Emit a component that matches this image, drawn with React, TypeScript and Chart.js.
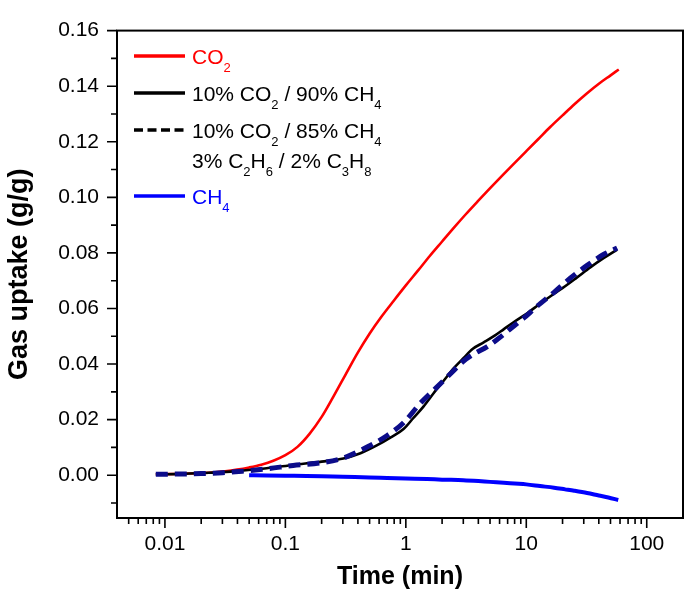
import React, { useEffect, useRef } from 'react';
import { Chart, registerables } from 'chart.js';

Chart.register(...registerables);

const FONT = '"Liberation Sans", Arial, Helvetica, sans-serif';

// ---- axes ----
const xMin = 0.004;
const xMax = 200;
const yMin = -0.0154;
const yMax = 0.16;
const xTickValues = [0.01, 0.1, 1, 10, 100];
const yTickValues = [0, 0.02, 0.04, 0.06, 0.08, 0.1, 0.12, 0.14, 0.16];
const xTitle = 'Time (min)';
const yTitle = 'Gas uptake (g/g)';

// ---- series: CO2 ----
const co2Time = [0.0084, 0.0158, 0.0251, 0.0316, 0.0398, 0.0501, 0.0631, 0.0794, 0.1, 0.126, 0.158, 0.2, 0.251, 0.316, 0.398, 0.501, 0.631, 0.794, 1.0, 1.26, 1.58, 2.0, 2.51, 3.16, 3.98, 5.01, 6.31, 7.94, 10, 12.6, 15.8, 20, 25.1, 31.6, 39.8, 50.1, 58.6];
const co2Uptake = [0.0003, 0.0006, 0.001, 0.0014, 0.002, 0.0028, 0.0038, 0.0052, 0.0072, 0.0102, 0.0148, 0.021, 0.0284, 0.0362, 0.044, 0.051, 0.0572, 0.0628, 0.0683, 0.0736, 0.0789, 0.0841, 0.0891, 0.094, 0.0987, 0.1033, 0.1078, 0.1122, 0.1166, 0.121, 0.1253, 0.1295, 0.1335, 0.1373, 0.1408, 0.1439, 0.146];

// ---- series: 10% CO2 / 90% CH4 ----
const mixATime = [0.0084, 0.012, 0.0209, 0.03, 0.0448, 0.07, 0.116, 0.2, 0.303, 0.42, 0.574, 0.75, 0.957, 1.15, 1.4, 1.7, 2.06, 2.5, 3.02, 3.6, 4.43, 5.5, 6.48, 8.0, 10.1, 13, 16.9, 21, 26.4, 34, 44.1, 56.8];
const mixAUptake = [0.0003, 0.0004, 0.0008, 0.0011, 0.0017, 0.0025, 0.0037, 0.0049, 0.006, 0.0079, 0.0107, 0.0136, 0.0166, 0.0205, 0.0247, 0.0295, 0.034, 0.0385, 0.0422, 0.0455, 0.0478, 0.0503, 0.0525, 0.0553, 0.0582, 0.0617, 0.0652, 0.068, 0.0712, 0.0748, 0.0782, 0.0812];

// ---- series: 10% CO2 / 85% CH4 / 3% C2H6 / 2% C3H8 ----
const mixBTime = [0.0084, 0.012, 0.02, 0.03, 0.045, 0.07, 0.116, 0.2, 0.303, 0.506, 0.695, 0.957, 1.32, 1.81, 2.49, 3.0, 3.66, 4.71, 5.8, 7.3, 9.5, 12.3, 17, 23.3, 32, 44.1, 56.8];
const mixBUptake = [0.0003, 0.0004, 0.0006, 0.0009, 0.0015, 0.0023, 0.0035, 0.0045, 0.0062, 0.0107, 0.0142, 0.0189, 0.0259, 0.0317, 0.0376, 0.041, 0.0436, 0.0462, 0.049, 0.0525, 0.0565, 0.0608, 0.0658, 0.071, 0.0755, 0.0795, 0.0818];

// ---- series: CH4 ----
const ch4Time = [0.05, 0.07, 0.1, 0.15, 0.2, 0.3, 0.5, 0.7, 1.0, 1.5, 2.0, 3.0, 4.0, 5.0, 6.5, 8.0, 10, 13, 17, 21, 25, 32, 40, 48, 58];
const ch4Uptake = [0.0, -0.0001, -0.0002, -0.0003, -0.0004, -0.0006, -0.0008, -0.001, -0.0012, -0.0014, -0.0016, -0.0018, -0.0021, -0.0024, -0.0027, -0.003, -0.0033, -0.0039, -0.0045, -0.0051, -0.0056, -0.0064, -0.0073, -0.008, -0.0089];

// ---- labels ----
const seriesLabels = ['CO2', '10% CO2 / 90% CH4', '10% CO2 / 85% CH4 / 3% C2H6 / 2% C3H8', 'CH4'];
// legend text with subscript markup (_n = subscript digit)
const legendText = [['CO_2'], ['10% CO_2 / 90% CH_4'], ['10% CO_2 / 85% CH_4', '3% C_2H_6 / 2% C_3H_8'], ['CH_4']];

const toPoints = (xs: number[], ys: number[]) => xs.map((x, i) => ({ x, y: ys[i] }));

function drawRich(ctx: CanvasRenderingContext2D, text: string, x: number, baseline: number, color: string) {
  const parts = text.split(/(_\d)/);
  let cx = x;
  ctx.fillStyle = color;
  ctx.textAlign = 'left';
  ctx.textBaseline = 'alphabetic';
  for (const p of parts) {
    if (!p) continue;
    if (p[0] === '_') {
      const s = p.slice(1);
      ctx.font = `13px ${FONT}`;
      ctx.fillText(s, cx, baseline + 8);
      cx += ctx.measureText(s).width;
    } else {
      ctx.font = `21px ${FONT}`;
      ctx.fillText(p, cx, baseline);
      cx += ctx.measureText(p).width;
    }
  }
}

const frameTicksPlugin = {
  id: 'frameTicks',
  afterDatasetsDraw(chart: any) {
    const { ctx, chartArea: a, scales } = chart;
    const x = scales.x;
    const y = scales.y;
    ctx.save();
    ctx.strokeStyle = '#000';
    ctx.lineWidth = 2;
    ctx.strokeRect(a.left, a.top, a.right - a.left, a.bottom - a.top);
    ctx.lineWidth = 1.6;
    ctx.beginPath();
    for (let i = -1; i <= 16; i++) {
      const v = i / 100;
      if (v < yMin || v > yMax) continue;
      const py = y.getPixelForValue(v);
      const len = i % 2 === 0 ? 10 : 6;
      ctx.moveTo(a.left, py);
      ctx.lineTo(a.left - len, py);
    }
    for (let e = -3; e <= 2; e++) {
      for (let k = 1; k <= 9; k++) {
        const v = k * Math.pow(10, e);
        if (v <= xMin * 1.001 || v >= xMax * 0.999) continue;
        const px = x.getPixelForValue(v);
        const len = k === 1 ? 10 : 6;
        ctx.moveTo(px, a.bottom);
        ctx.lineTo(px, a.bottom + len);
      }
    }
    ctx.stroke();
    ctx.restore();
  },
};

const legendPlugin = {
  id: 'richLegend',
  afterDraw(chart: any) {
    const { ctx, chartArea: a } = chart;
    const rowsY = [25.5, 62.5, 99.5, 165.5];
    const textColors = ['#ff0000', '#000000', '#000000', '#0000ff'];
    const lineColors = ['#ff0000', '#000000', '#000000', '#0000ff'];
    const dashes = [[], [], [9, 4.5], []];
    ctx.save();
    legendText.forEach((lines, i) => {
      const yy = a.top + rowsY[i];
      ctx.beginPath();
      ctx.strokeStyle = lineColors[i];
      ctx.lineWidth = 3.5;
      ctx.setLineDash(dashes[i]);
      ctx.moveTo(a.left + 17, yy);
      ctx.lineTo(a.left + 68, yy);
      ctx.stroke();
      ctx.setLineDash([]);
      lines.forEach((t, j) => {
        drawRich(ctx, t, a.left + 75, yy + 7.5 + j * 30, textColors[i]);
      });
    });
    ctx.restore();
  },
};

export default function App() {
  const ref = useRef<HTMLCanvasElement>(null);
  useEffect(() => {
    if (!ref.current) return;
    const chart = new Chart(ref.current, {
      type: 'line',
      data: {
        datasets: [
          {
            label: seriesLabels[0],
            data: toPoints(co2Time, co2Uptake),
            borderColor: '#ff0000',
            borderWidth: 2.6,
            pointRadius: 0,
            cubicInterpolationMode: 'monotone',
            order: 3,
          },
          {
            label: seriesLabels[1],
            data: toPoints(mixATime, mixAUptake),
            borderColor: '#000000',
            borderWidth: 2.6,
            pointRadius: 0,
            cubicInterpolationMode: 'monotone',
            order: 2,
          },
          {
            label: seriesLabels[2],
            data: toPoints(mixBTime, mixBUptake),
            borderColor: '#0c0c8a',
            borderWidth: 5,
            borderDash: [12, 7],
            pointRadius: 0,
            cubicInterpolationMode: 'monotone',
            order: 1,
          },
          {
            label: seriesLabels[3],
            data: toPoints(ch4Time, ch4Uptake),
            borderColor: '#0000ff',
            borderWidth: 4,
            pointRadius: 0,
            cubicInterpolationMode: 'monotone',
            order: 0,
          },
        ],
      } as any,
      options: {
        responsive: false,
        animation: false,
        devicePixelRatio: 1,
        layout: { padding: { left: 0, right: 2, top: 17.5, bottom: 0 } },
        plugins: {
          legend: { display: false },
          tooltip: { enabled: false },
        },
        elements: { point: { radius: 0 } },
        scales: {
          x: {
            type: 'logarithmic',
            position: 'bottom',
            min: xMin,
            max: xMax,
            grid: { display: false, drawTicks: false },
            border: { display: false },
            afterBuildTicks: (s: any) => {
              s.ticks = xTickValues.map((v) => ({ value: v, major: true }));
            },
            afterFit: (s: any) => {
              s.height = 82;
            },
            ticks: {
              autoSkip: false,
              maxRotation: 0,
              minRotation: 0,
              padding: 14,
              color: '#000',
              font: { family: FONT, size: 21 },
              callback: (v: any) => String(v),
            },
            title: {
              display: true,
              text: xTitle,
              color: '#000',
              font: { family: FONT, size: 25, weight: 'bold' },
              padding: { top: 0, bottom: 8 },
            },
          },
          y: {
            type: 'linear',
            position: 'left',
            min: yMin,
            max: yMax,
            grid: { display: false, drawTicks: false },
            border: { display: false },
            afterBuildTicks: (s: any) => {
              s.ticks = yTickValues.map((v) => ({ value: v }));
            },
            afterFit: (s: any) => {
              s.width = 117;
            },
            ticks: {
              padding: 18,
              color: '#000',
              font: { family: FONT, size: 21 },
              callback: (v: any) => Number(v).toFixed(2),
            },
            title: {
              display: true,
              text: yTitle,
              color: '#000',
              font: { family: FONT, size: 27, weight: 'bold' },
              padding: { top: 3, bottom: 0 },
            },
          },
        },
      } as any,
      plugins: [frameTicksPlugin, legendPlugin],
    });
    return () => chart.destroy();
  }, []);

  return (
    <div style={{ position: 'fixed', left: 0, top: 0, width: 685, height: 600, background: '#fff' }}>
      <canvas ref={ref} width={685} height={600} style={{ display: 'block', width: 685, height: 600 }} />
    </div>
  );
}
